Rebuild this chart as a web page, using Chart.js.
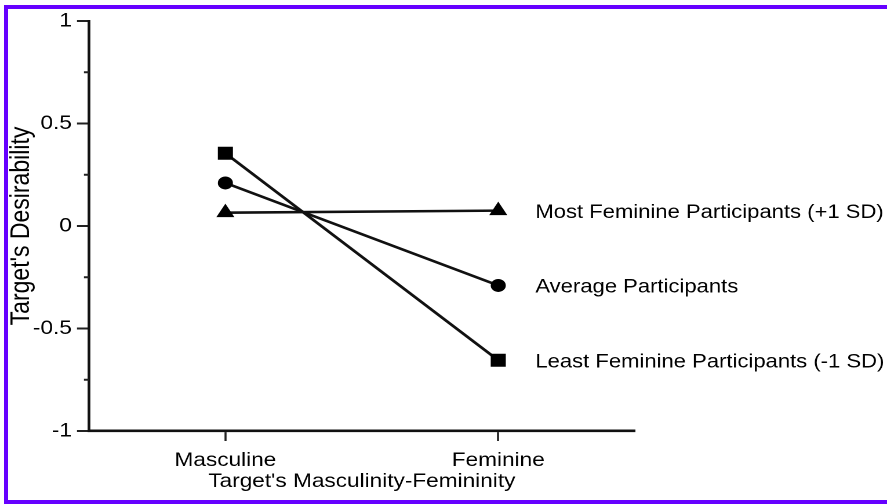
<!DOCTYPE html>
<html>
<head>
<meta charset="utf-8">
<script src="https://cdn.jsdelivr.net/npm/chart.js@4"></script>
<style>
  html, body { margin: 0; padding: 0; background: #fff; overflow: hidden; }
  #wrap { position: relative; width: 887px; height: 504px; overflow: hidden; }
  /* a figura original está esticada na horizontal (~1.16x) */
  #grafico { display: block; width: 887px; height: 504px; }
  .borda { position: absolute; background: #6600ff; }
</style>
</head>
<body>
<div id="wrap">
  <canvas id="grafico" width="765" height="504" style="width:887px;height:504px"></canvas>
  <div class="borda" style="left:4px;top:5px;width:883px;height:4px"></div>
  <div class="borda" style="left:4px;top:5px;width:4px;height:499px"></div>
  <div class="borda" style="left:4px;top:500px;width:883px;height:4px"></div>
</div>
<script>
// categorias e valores
const categorias = ['Masculine', 'Feminine'];
const maisFemininas = [0.065, 0.075];
const medias = [0.21, -0.29];
const menosFemininas = [0.355, -0.655];
const nomesSeries = [
  'Most Feminine Participants (+1 SD)',
  'Average Participants',
  'Least Feminine Participants (-1 SD)'
];

const familia = '"Liberation Sans", Arial, sans-serif';
const fonte = { family: familia, size: 19.5, lineHeight: 1 };
const corTexto = '#000';

const ehMaior = v => Math.abs(v * 2 - Math.round(v * 2)) < 1e-6;

// rótulos à direita de cada linha
const rotulosSeries = {
  id: 'rotulosSeries',
  afterDatasetsDraw(chart) {
    const ctx = chart.ctx;
    ctx.save();
    ctx.font = '19px ' + familia;
    ctx.fillStyle = corTexto;
    ctx.textAlign = 'left';
    ctx.textBaseline = 'middle';
    chart.data.datasets.forEach((ds, i) => {
      const pts = chart.getDatasetMeta(i).data;
      const p = pts[pts.length - 1];
      ctx.fillText(ds.label, p.x + 32, p.y + 2);
    });
    ctx.restore();
  }
};

// ticks menores do eixo y
const ticksMenores = {
  id: 'ticksMenores',
  afterDraw(chart) {
    const y = chart.scales.y;
    const ctx = chart.ctx;
    ctx.save();
    ctx.strokeStyle = '#222';
    ctx.lineWidth = 2;
    y.ticks.forEach(t => {
      if (!ehMaior(t.value)) {
        const py = y.getPixelForValue(t.value);
        ctx.beginPath();
        ctx.moveTo(chart.chartArea.left - 4.3, py);
        ctx.lineTo(chart.chartArea.left, py);
        ctx.stroke();
      }
    });
    ctx.restore();
  }
};

const ctx = document.getElementById('grafico').getContext('2d');
new Chart(ctx, {
  type: 'line',
  data: {
    labels: categorias,
    datasets: [
      { label: nomesSeries[0], data: maisFemininas, pointStyle: 'triangle', pointRadius: 9 },
      { label: nomesSeries[1], data: medias, pointStyle: 'circle', pointRadius: 6.5 },
      { label: nomesSeries[2], data: menosFemininas, pointStyle: 'rect', pointRadius: 9.2 }
    ].map(d => Object.assign(d, {
      borderColor: '#111',
      backgroundColor: '#000',
      pointBackgroundColor: '#000',
      pointBorderColor: '#000',
      pointBorderWidth: 0,
      borderWidth: 2.6,
      tension: 0,
      fill: false
    }))
  },
  options: {
    responsive: false,
    animation: false,
    devicePixelRatio: 2,
    layout: { padding: { top: 21, right: 217.6, bottom: 0, left: 0 } },
    plugins: {
      legend: { display: false },
      tooltip: { enabled: false }
    },
    scales: {
      x: {
        type: 'category',
        offset: true,
        afterFit: s => { s.height = 73; },
        grid: { display: true, drawOnChartArea: false, offset: false, tickLength: 10, tickColor: '#222', tickWidth: 1.8 },
        border: { display: true, color: '#111', width: 2.6 },
        ticks: { color: corTexto, font: fonte, padding: 10, maxRotation: 0 },
        title: { display: true, text: "Target's Masculinity-Femininity", color: corTexto, font: fonte, padding: { top: 1, bottom: 12.5 } }
      },
      y: {
        min: -1,
        max: 1,
        afterFit: s => { s.width = 76.7; },
        grid: {
          display: true, drawOnChartArea: false, tickLength: 10.3, tickWidth: 2,
          tickColor: c => (c.tick && ehMaior(c.tick.value)) ? '#222' : 'rgba(0,0,0,0)'
        },
        border: { display: true, color: '#111', width: 2.4 },
        ticks: {
          stepSize: 0.25,
          color: corTexto,
          font: fonte,
          padding: 4.4,
          callback: v => ehMaior(v) ? String(v) : ''
        },
        title: { display: true, text: "Target's Desirability", color: corTexto, font: { family: familia, size: 23, lineHeight: 1 }, padding: { top: 7, bottom: 0 } }
      }
    }
  },
  plugins: [rotulosSeries, ticksMenores]
});
</script>
</body>
</html>
